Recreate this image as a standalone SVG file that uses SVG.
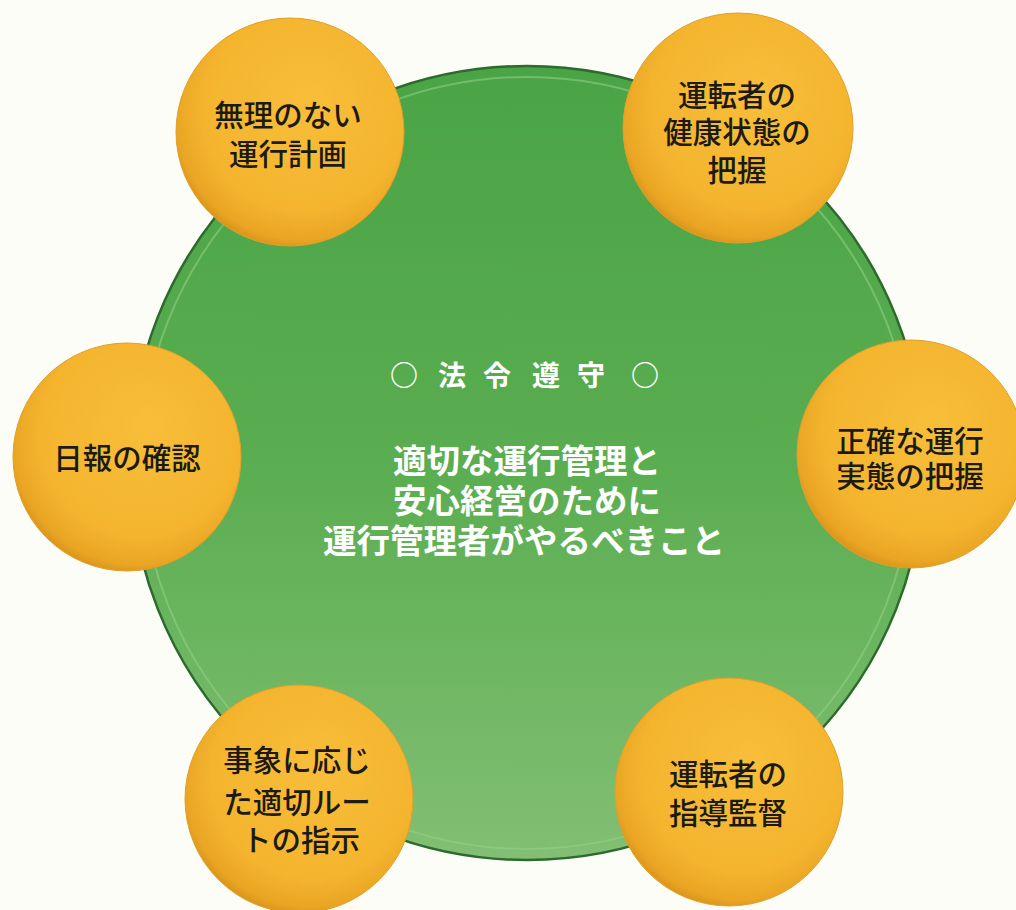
<svg xmlns="http://www.w3.org/2000/svg" width="1016" height="910" viewBox="0 0 1016 910">
  <defs>
    <linearGradient id="greenFill" x1="0" y1="0" x2="0" y2="1">
      <stop offset="0" stop-color="#4aa445"/>
      <stop offset="0.5" stop-color="#5aad50"/>
      <stop offset="1" stop-color="#82bf74"/>
    </linearGradient>
    <radialGradient id="orangeFill" cx="0.55" cy="0.42" r="0.6" fx="0.6" fy="0.35">
      <stop offset="0" stop-color="#f8be3a"/>
      <stop offset="0.75" stop-color="#f4b42e"/>
      <stop offset="0.93" stop-color="#e9a523"/>
      <stop offset="1" stop-color="#d8931a"/>
    </radialGradient>
    <style>
      .node-circle { fill: url(#orangeFill); stroke: #e0a02a; stroke-width: 1; }
      .node-text { font-family: "Noto Sans CJK JP", "Noto Sans", sans-serif; font-size: 29.5px; font-weight: 500; fill: #1c1a14; text-anchor: middle; }
      .center-text { font-family: "Noto Sans CJK JP", "Noto Sans", sans-serif; font-size: 33.5px; font-weight: 700; fill: #ffffff; text-anchor: middle; }
      .header-text { font-family: "Noto Sans CJK JP", "Noto Sans", sans-serif; font-size: 28px; font-weight: 700; fill: #ffffff; text-anchor: middle; }
    </style>
  </defs>
  <rect x="0" y="0" width="1016" height="910" fill="#fdfdf7"/>

  <g id="center">
    <circle cx="527" cy="463" r="397" fill="url(#greenFill)" stroke="#2d6a2e" stroke-width="2.5"/>
    <circle cx="527" cy="463" r="386" fill="none" stroke="#93d187" stroke-width="2" opacity="0.55"/>
    <text class="header-text" x="404 452 497 546 591 645" y="386" text-anchor="middle">○法令遵守○</text>
    <text class="center-text" x="527" y="473">適切な運行管理と</text>
    <text class="center-text" x="527" y="513">安心経営のために</text>
    <text class="center-text" x="524" y="553">運行管理者がやるべきこと</text>
  </g>

  <g id="connectors"/>

  <g id="node-plan">
    <circle class="node-circle" cx="290" cy="132" r="114"/>
    <text class="node-text" x="288" y="126">無理のない</text>
    <text class="node-text" x="288" y="165">運行計画</text>
  </g>

  <g id="node-health">
    <circle class="node-circle" cx="738" cy="128" r="115"/>
    <text class="node-text" x="737" y="106">運転者の</text>
    <text class="node-text" x="737" y="143">健康状態の</text>
    <text class="node-text" x="737" y="181">把握</text>
  </g>

  <g id="node-report">
    <circle class="node-circle" cx="127" cy="457" r="114"/>
    <text class="node-text" x="127" y="469">日報の確認</text>
  </g>

  <g id="node-actual">
    <circle class="node-circle" cx="911" cy="454" r="114"/>
    <text class="node-text" x="910" y="452">正確な運行</text>
    <text class="node-text" x="910" y="487">実態の把握</text>
  </g>

  <g id="node-route">
    <circle class="node-circle" cx="299" cy="799" r="114"/>
    <text class="node-text" x="297" y="771">事象に応じ</text>
    <text class="node-text" x="297" y="813">た適切ルー</text>
    <text class="node-text" x="301" y="851">トの指示</text>
  </g>

  <g id="node-guidance">
    <circle class="node-circle" cx="729" cy="792" r="114"/>
    <text class="node-text" x="728" y="785">運転者の</text>
    <text class="node-text" x="728" y="824">指導監督</text>
  </g>
</svg>
